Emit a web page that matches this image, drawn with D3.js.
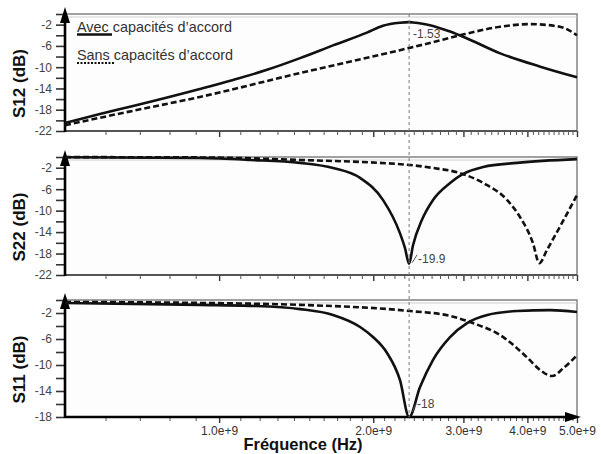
<!DOCTYPE html>
<html><head><meta charset="utf-8">
<script src="https://cdn.jsdelivr.net/npm/d3@7"></script>
<style>
body{margin:0;background:#fff;}
svg{display:block;font-family:"Liberation Sans",Arial,sans-serif;}
</style></head><body>
<svg id="c" width="601" height="454"></svg>
<script>
// ---------- DATA (frequency in GHz, values in dB) ----------
const freqTicks = [1, 2, 3, 4, 5];
const freqTickLabels = ["1.0e+9", "2.0e+9", "3.0e+9", "4.0e+9", "5.0e+9"];
const markerFreq = 2.35;

const s12AvecF  = [0.5, 0.585, 0.679, 0.917, 1.065, 1.24, 1.439, 1.669, 1.944, 2.089, 2.255, 2.35, 2.391, 2.582, 2.825, 3.05, 3.54, 4.24, 5.0];
const s12AvecDb = [-20.5, -18.8, -17.3, -14.1, -12.4, -10.5, -8.3, -5.9, -3.5, -2.2, -1.64, -1.53, -1.6, -2.1, -3.3, -4.6, -7.4, -9.9, -11.9];
const s12SansF  = [0.5, 0.679, 0.917, 1.439, 2.255, 2.617, 2.954, 3.54, 4.05, 4.63, 5.0];
const s12SansDb = [-20.9, -18.2, -15.6, -11.1, -6.8, -5.3, -4.0, -2.4, -1.9, -2.4, -4.0];

const s22AvecF  = [0.5, 0.917, 1.149, 1.439, 1.669, 1.885, 2.089, 2.255, 2.307, 2.35, 2.391, 2.49, 2.617, 2.825, 2.99, 3.28, 3.82, 5.0];
const s22AvecDb = [-0.05, -0.2, -0.55, -1.1, -2.05, -3.9, -8.0, -14.2, -17.0, -19.9, -16.5, -11.7, -8.0, -4.85, -3.2, -1.85, -1.1, -0.4];
const s22SansF  = [0.5, 0.917, 1.439, 2.36, 2.617, 2.954, 3.28, 3.65, 3.87, 4.10, 4.22, 4.37, 4.63, 5.0];
const s22SansDb = [-0.02, -0.08, -0.55, -1.5, -2.05, -3.0, -4.85, -8.0, -11.2, -16.0, -19.8, -17.3, -13.0, -7.1];

const s11AvecF  = [0.5, 0.917, 1.149, 1.439, 1.669, 1.885, 1.998, 2.128, 2.255, 2.35, 2.468, 2.617, 2.825, 3.05, 3.34, 3.82, 4.43, 5.0];
const s11AvecDb = [-0.45, -0.75, -0.9, -1.4, -2.3, -4.15, -5.7, -8.15, -12.3, -18.0, -13.4, -9.2, -5.7, -3.55, -2.3, -1.7, -1.55, -1.85];
const s11SansF  = [0.5, 0.917, 1.439, 2.36, 2.825, 3.13, 3.54, 3.99, 4.24, 4.47, 4.70, 5.0];
const s11SansDb = [-0.3, -0.45, -0.75, -1.7, -2.45, -3.55, -5.4, -8.8, -10.8, -11.7, -10.5, -8.5];

const panelTitles = ["S12 (dB)", "S22 (dB)", "S11 (dB)"];
const yTicksS12 = [0, -2, -4, -6, -8, -10, -12, -14, -16, -18, -20, -22];
const yTicksS22 = [0, -2, -4, -6, -8, -10, -12, -14, -16, -18, -20, -22];
const yTicksS11 = [0, -2, -4, -6, -8, -10, -12, -14, -16, -18];
const yLabelsS12 = [-2, -6, -10, -14, -18, -22];
const yLabelsS22 = [-2, -6, -10, -14, -18, -22];
const yLabelsS11 = [-2, -6, -10, -14, -18];
const annotS12 = "-1.53", annotS22 = "-19.9", annotS11 = "-18";
const legendLabels = ["Avec capacités d’accord", "Sans capacités d’accord"];
const xTitle = "Fréquence (Hz)";

// ---------- DRAWING ----------
const svg = d3.select("#c");
const X0 = 65, X1 = 577;
const x = d3.scaleLog().domain([0.5, 5]).range([X0, X1]);
const minorTicks = d3.range(6, 50).map(d => d / 10).filter(d => !freqTicks.includes(d));

const zip = (f, v) => f.map((d, i) => [d, v[i]]);
const panels = [
  {top: 14, bottom: 131, domain: [-22, 0], ticks: yTicksS12, labels: yLabelsS12,
   avec: zip(s12AvecF, s12AvecDb), sans: zip(s12SansF, s12SansDb), title: panelTitles[0], last: false},
  {top: 157, bottom: 275, domain: [-22, 0], ticks: yTicksS22, labels: yLabelsS22,
   avec: zip(s22AvecF, s22AvecDb), sans: zip(s22SansF, s22SansDb), title: panelTitles[1], last: false},
  {top: 300, bottom: 417, domain: [-18, 0], ticks: yTicksS11, labels: yLabelsS11,
   avec: zip(s11AvecF, s11AvecDb), sans: zip(s11SansF, s11SansDb), title: panelTitles[2], last: true}
];

panels.forEach(p => {
  p.y = d3.scaleLinear().domain(p.domain).range([p.bottom, p.top]);
  const g = svg.append("g");
  g.append("rect").attr("x", X0).attr("y", p.top).attr("width", X1 - X0).attr("height", p.bottom - p.top)
    .attr("fill", "#fdfdfd").attr("stroke", "#8a8a8a").attr("stroke-width", 1.6);
  g.append("line").attr("x1", X0).attr("x2", X1).attr("y1", p.top + 3).attr("y2", p.top + 3)
    .attr("stroke", "#d0d0d0").attr("stroke-width", 1);

  const ya = d3.axisLeft(p.y).tickValues(p.ticks).tickSize(9).tickPadding(4)
    .tickFormat(d => p.labels.includes(d) ? String(d) : "");
  const yg = g.append("g").attr("transform", `translate(${X0},0)`).call(ya);
  yg.select(".domain").remove();
  yg.selectAll("line").attr("stroke", "#333").attr("stroke-width", 1.6);
  yg.selectAll("text").attr("fill", "#444").style("font-size", "12px");

  const xgMin = g.append("g").attr("transform", `translate(0,${p.bottom})`)
    .call(d3.axisBottom(x).tickValues(minorTicks).tickSize(4).tickFormat(""));
  xgMin.select(".domain").remove();
  xgMin.selectAll("line").attr("stroke", "#555").attr("stroke-width", 1);
  const xgMaj = g.append("g").attr("transform", `translate(0,${p.bottom})`)
    .call(d3.axisBottom(x).tickValues(freqTicks).tickSize(6).tickPadding(3)
      .tickFormat((d, i) => p.last ? freqTickLabels[i] : ""));
  xgMaj.select(".domain").remove();
  xgMaj.selectAll("line").attr("stroke", "#333").attr("stroke-width", 1.4);
  xgMaj.selectAll("text").attr("fill", "#333").style("font-size", "12px");

  if (p.last) {
    g.append("line").attr("x1", X0).attr("x2", X1 - 8).attr("y1", p.bottom).attr("y2", p.bottom)
      .attr("stroke", "#000").attr("stroke-width", 2.6);
    g.append("path").attr("d", `M${X1 + 4},${p.bottom} L${X1 - 12},${p.bottom - 5} L${X1 - 12},${p.bottom + 5} Z`)
      .attr("fill", "#000");
  } else {
    g.append("line").attr("x1", X0).attr("x2", X1).attr("y1", p.bottom).attr("y2", p.bottom)
      .attr("stroke", "#555").attr("stroke-width", 2);
  }

  g.append("line").attr("x1", X0).attr("x2", X0).attr("y1", p.top + 6).attr("y2", p.bottom + 1)
    .attr("stroke", "#000").attr("stroke-width", 2.6);
  g.append("path").attr("d", `M${X0},${p.top - 7} L${X0 - 5},${p.top + 9} L${X0 + 5},${p.top + 9} Z`)
    .attr("fill", "#000");

  svg.append("text").attr("transform", `translate(25,${(p.top + p.bottom) / 2 + 11}) rotate(-90)`)
    .attr("text-anchor", "middle").attr("fill", "#111")
    .style("font-size", "17px").style("font-weight", "bold").text(p.title);
});

panels.forEach(p => {
  const line = d3.line().x(d => x(d[0])).y(d => p.y(d[1])).curve(d3.curveMonotoneX);
  svg.append("path").attr("d", line(p.sans)).attr("fill", "none")
    .attr("stroke", "#111").attr("stroke-width", 2.6).attr("stroke-dasharray", "6,3");
  svg.append("path").attr("d", line(p.avec)).attr("fill", "none")
    .attr("stroke", "#111").attr("stroke-width", 2.6);
});

const mx = x(markerFreq);
svg.append("line").attr("x1", mx).attr("x2", mx).attr("y1", panels[0].top).attr("y2", panels[2].bottom)
  .attr("stroke", "#777").attr("stroke-width", 1).attr("stroke-dasharray", "3,3");

const p0 = panels[0], p1 = panels[1], p2 = panels[2];
svg.append("text").attr("x", mx + 4).attr("y", p0.y(-1.53) + 16).attr("fill", "#444")
  .style("font-size", "12px").text(annotS12);
const a1y = p1.y(-19.9);
svg.append("line").attr("x1", mx + 3).attr("y1", a1y - 1).attr("x2", mx + 8).attr("y2", a1y - 9)
  .attr("stroke", "#555").attr("stroke-width", 1);
svg.append("text").attr("x", mx + 9).attr("y", a1y - 1).attr("fill", "#444")
  .style("font-size", "12px").text(annotS22);
const a2y = p2.y(-18);
svg.append("line").attr("x1", mx + 3).attr("y1", a2y - 5).attr("x2", mx + 7).attr("y2", a2y - 13)
  .attr("stroke", "#555").attr("stroke-width", 1);
svg.append("text").attr("x", mx + 8).attr("y", a2y - 9).attr("fill", "#444")
  .style("font-size", "12px").text(annotS11);

svg.append("text").attr("x", 77).attr("y", 32).attr("fill", "#333").style("font-size", "14.4px").text(legendLabels[0]);
svg.append("line").attr("x1", 77).attr("x2", 112).attr("y1", 34.5).attr("y2", 34.5)
  .attr("stroke", "#111").attr("stroke-width", 2.4);
svg.append("text").attr("x", 77).attr("y", 60).attr("fill", "#333").style("font-size", "14.4px").text(legendLabels[1]);
svg.append("line").attr("x1", 77).attr("x2", 115).attr("y1", 63).attr("y2", 63)
  .attr("stroke", "#111").attr("stroke-width", 2.2).attr("stroke-dasharray", "2,1.5");

svg.append("text").attr("x", 303).attr("y", 450).attr("text-anchor", "middle").attr("fill", "#111")
  .style("font-size", "16.5px").style("font-weight", "bold").text(xTitle);
</script>
</body></html>
